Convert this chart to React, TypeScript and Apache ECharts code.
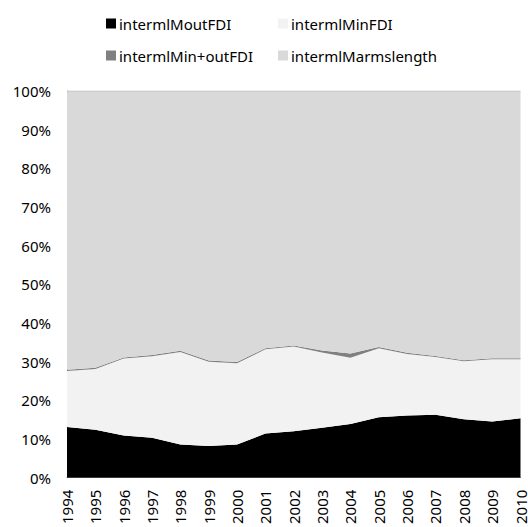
import React, { useEffect, useRef } from "react";
import * as echarts from "echarts";

const years = ["1994","1995","1996","1997","1998","1999","2000","2001","2002","2003","2004","2005","2006","2007","2008","2009","2010"];
const outFDI = [13.1,12.4,10.9,10.3,8.6,8.2,8.6,11.4,12.0,12.9,13.9,15.6,16.1,16.3,15.1,14.5,15.4];
const inFDI = [14.5,15.7,19.9,21.1,23.9,21.8,21.0,21.8,21.9,19.5,17.1,17.9,15.9,14.9,15.0,16.1,15.2];
const inOutFDI = [0.3,0.3,0.3,0.3,0.3,0.3,0.3,0.3,0.3,0.5,1.1,0.3,0.3,0.3,0.3,0.3,0.3];
const armsLength = [72.1,71.6,68.9,68.3,67.2,69.7,70.1,66.5,65.8,67.1,67.9,66.2,67.7,68.5,69.6,69.1,69.1];
const yTicks = [0,10,20,30,40,50,60,70,80,90,100];

const names = ["intermlMoutFDI","intermlMinFDI","intermlMin+outFDI","intermlMarmslength"];
const colors = ["#000000","#f2f2f2","#808080","#d9d9d9"];
const FONT = "Noto Sans";

export default function App() {
  const ref = useRef<HTMLDivElement>(null);
  useEffect(() => {
    const chart = echarts.init(ref.current!, null, { renderer: "svg" });
    const datas = [outFDI, inFDI, inOutFDI, armsLength];
    const legendPos = [
      { left: 101, top: 11 },
      { left: 273, top: 11 },
      { left: 101, top: 43 },
      { left: 273, top: 43 },
    ];
    chart.setOption({
      animation: false,
      color: colors,
      textStyle: { fontFamily: FONT },
      legend: names.map((n, i) => ({
        data: [n],
        left: legendPos[i].left,
        top: legendPos[i].top,
        itemWidth: 10,
        itemHeight: 10,
        itemGap: 4,
        icon: "rect",
        textStyle: { fontFamily: FONT, fontSize: 15, color: "#000", padding: [0, 0, 0, -2] },
      })),
      grid: { left: 67, right: 3, top: 91, bottom: 46 },
      xAxis: {
        type: "category",
        data: years,
        boundaryGap: false,
        axisLine: { lineStyle: { color: "#868686", width: 1 } },
        axisTick: { show: false },
        axisLabel: { rotate: 90, fontFamily: FONT, fontSize: 15, color: "#000", margin: 12 },
      },
      yAxis: {
        type: "value",
        min: 0,
        max: 100,
        interval: 10,
        axisLine: { show: true, lineStyle: { color: "#868686", width: 1 } },
        axisTick: { show: false },
        splitLine: { show: false },
        axisLabel: {
          fontFamily: FONT,
          fontSize: 15,
          color: "#000",
          margin: 16,
          formatter: (v: number) => (yTicks.includes(v) ? v + "%" : ""),
        },
      },
      series: datas.map((d, i) => ({
        name: names[i],
        type: "line",
        stack: "total",
        data: d,
        symbol: "none",
        lineStyle: i === 3 ? { width: 1, color: "#bdbdbd" } : { width: 0 },
        areaStyle: { color: colors[i], opacity: 1 },
        itemStyle: { color: colors[i] },
      })),
    });
    return () => chart.dispose();
  }, []);
  return <div ref={ref} style={{ width: 528, height: 527, position: "absolute", left: 0, top: 0 }} />;
}
